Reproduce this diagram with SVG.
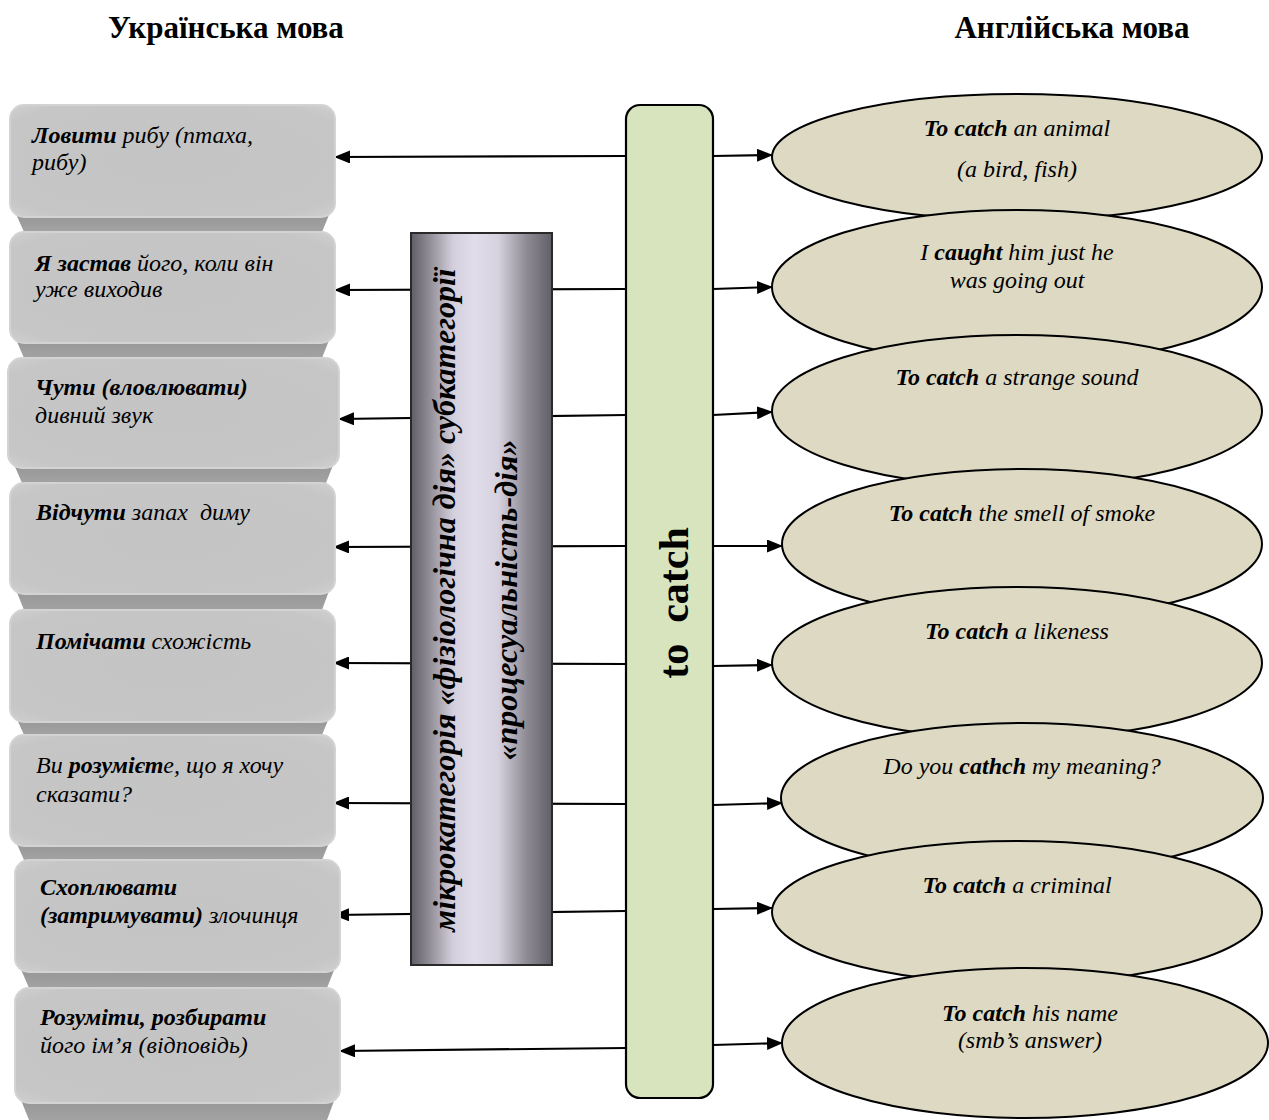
<svg xmlns="http://www.w3.org/2000/svg" width="1269" height="1120" viewBox="0 0 1269 1120">
<style>
.title{font-family:"Liberation Serif","Times New Roman",serif;font-weight:bold;font-size:31px;fill:#000}
.lt{font-family:"Liberation Serif","Times New Roman",serif;font-style:italic;font-size:24px;fill:#000}
.et{font-family:"Liberation Serif","Times New Roman",serif;font-style:italic;font-size:24px;fill:#000}
.b{font-weight:bold}
.face{fill:url(#faceGrad);stroke:#d3d3d3;stroke-width:2}
.base{fill:url(#baseGrad)}
.ell{fill:#ddd9c3;stroke:#000;stroke-width:2}
.conn{stroke:#000;stroke-width:2.2;fill:none;marker-end:url(#ah)}
.vt{font-family:"Liberation Serif","Times New Roman",serif;font-style:italic;font-weight:bold;font-size:32px;fill:#000}
</style>
<defs>
<marker id="ah" markerUnits="userSpaceOnUse" markerWidth="16" markerHeight="13" refX="15" refY="6.5" orient="auto">
<path d="M0,0 L16,6.5 L0,13 Z" fill="#000"/>
</marker>
<radialGradient id="faceGrad" cx="0.5" cy="0.5" r="0.7">
<stop offset="0" stop-color="#c4c4c4"/>
<stop offset="0.85" stop-color="#c6c6c6"/>
<stop offset="1" stop-color="#cfcfcf"/>
</radialGradient>
<linearGradient id="baseGrad" x1="0" y1="0" x2="0" y2="1">
<stop offset="0" stop-color="#8f8f8f"/>
<stop offset="1" stop-color="#a3a3a3"/>
</linearGradient>
<linearGradient id="barGrad" x1="0" y1="0" x2="1" y2="0">
<stop offset="0" stop-color="#5f5d65"/>
<stop offset="0.12" stop-color="#8c8992"/>
<stop offset="0.3" stop-color="#d4cfdc"/>
<stop offset="0.45" stop-color="#e2ddea"/>
<stop offset="0.62" stop-color="#d6d1de"/>
<stop offset="0.82" stop-color="#8e8b94"/>
<stop offset="1" stop-color="#605e66"/>
</linearGradient>
</defs>
<rect width="1269" height="1120" fill="#fff"/>

<text class="title" x="226" y="38" text-anchor="middle">Українська мова</text>
<text class="title" x="1072" y="38" text-anchor="middle">Англійська мова</text>

<g id="connectors">
<path class="conn" d="M626,156 L335,157"/>
<path class="conn" d="M713,156 L772,155"/>
<path class="conn" d="M626,289 L335,290"/>
<path class="conn" d="M713,289 L772,287"/>
<path class="conn" d="M626,415 L339,419"/>
<path class="conn" d="M713,415 L772,412"/>
<path class="conn" d="M626,546 L334,547"/>
<path class="conn" d="M713,546 L782,546"/>
<path class="conn" d="M626,664 L334,663"/>
<path class="conn" d="M713,666 L772,665"/>
<path class="conn" d="M626,804 L334,803"/>
<path class="conn" d="M713,805 L782,803"/>
<path class="conn" d="M626,911 L334,915"/>
<path class="conn" d="M713,909 L772,908"/>
<path class="conn" d="M626,1048 L340,1051"/>
<path class="conn" d="M713,1045 L782,1043"/>
</g>

<g id="ua1">
<path class="base" d="M12,205 L333,205 L322,232 L24,232 Z"/>
<rect class="face" x="10" y="105" width="325" height="112" rx="14"/>
<text class="lt" x="32" y="143"><tspan class="b">Ловити</tspan> рибу (птаха,</text>
<text class="lt" x="32" y="170">рибу)</text>
</g>
<g id="ua2">
<path class="base" d="M12,330 L333,330 L322,358 L24,358 Z"/>
<rect class="face" x="10" y="232" width="325" height="111" rx="14"/>
<text class="lt" x="35" y="271"><tspan class="b">Я застав</tspan> його, коли він</text>
<text class="lt" x="35" y="297">уже виходив</text>
</g>
<g id="ua3">
<path class="base" d="M10,455 L337,455 L326,483 L22,483 Z"/>
<rect class="face" x="8" y="358" width="331" height="110" rx="14"/>
<text class="lt" x="35" y="395"><tspan class="b">Чути (вловлювати)</tspan></text>
<text class="lt" x="35" y="423">дивний звук</text>
</g>
<g id="ua4">
<path class="base" d="M12,580 L333,580 L322,610 L24,610 Z"/>
<rect class="face" x="10" y="483" width="325" height="111" rx="14"/>
<text class="lt" x="36" y="520" xml:space="preserve"><tspan class="b">Відчути</tspan> запах  диму</text>
</g>
<g id="ua5">
<path class="base" d="M12,708 L333,708 L322,735 L24,735 Z"/>
<rect class="face" x="10" y="610" width="325" height="112" rx="14"/>
<text class="lt" x="36" y="649"><tspan class="b">Помічати</tspan> схожість</text>
</g>
<g id="ua6">
<path class="base" d="M12,833 L333,833 L322,860 L24,860 Z"/>
<rect class="face" x="10" y="735" width="325" height="111" rx="14"/>
<text class="lt" x="36" y="773">Ви <tspan class="b">розумієт</tspan>е, що я хочу</text>
<text class="lt" x="36" y="802">сказати?</text>
</g>
<g id="ua7">
<path class="base" d="M17,960 L338,960 L327,988 L29,988 Z"/>
<rect class="face" x="15" y="860" width="325" height="112" rx="14"/>
<text class="lt" x="40" y="895"><tspan class="b">Схоплювати</tspan></text>
<text class="lt" x="40" y="923"><tspan class="b">(затримувати)</tspan> злочинця</text>
</g>
<g id="ua8">
<path class="base" d="M17,1090 L338,1090 L327,1120 L29,1120 Z"/>
<rect class="face" x="15" y="988" width="325" height="115" rx="14"/>
<text class="lt" x="40" y="1025"><tspan class="b">Розуміти, розбирати</tspan></text>
<text class="lt" x="40" y="1053">його ім’я (відповідь)</text>
</g>

<g id="category">
<rect x="411" y="233" width="141" height="732" fill="url(#barGrad)" stroke="#2a2a2a" stroke-width="2"/>
<text class="vt" transform="translate(455,600) rotate(-90)" text-anchor="middle">мікрокатегорія «фізіологічна дія» субкатегорії</text>
<text class="vt" transform="translate(517,600) rotate(-90)" text-anchor="middle">«процесуальність-дія»</text>
</g>

<g id="verb">
<rect x="626" y="105" width="87" height="993" rx="14" fill="#d7e4bd" stroke="#000" stroke-width="2.2"/>
<text transform="translate(688,603) rotate(-90)" text-anchor="middle" xml:space="preserve" style="font-family:'Liberation Serif','Times New Roman',serif;font-weight:bold;font-size:42px;fill:#000">to  catch</text>
</g>

<g id="en1">
<ellipse class="ell" cx="1017" cy="157" rx="245" ry="63"/>
<text class="et" x="1017" y="136" text-anchor="middle"><tspan class="b">To catch</tspan> an animal</text>
<text class="et" x="1017" y="177" text-anchor="middle">(a bird, fish)</text>
</g>
<g id="en2">
<ellipse class="ell" cx="1017" cy="287" rx="245" ry="77"/>
<text class="et" x="1017" y="260" text-anchor="middle">I <tspan class="b">caught</tspan> him just he</text>
<text class="et" x="1017" y="288" text-anchor="middle">was going out</text>
</g>
<g id="en3">
<ellipse class="ell" cx="1017" cy="411" rx="245" ry="76"/>
<text class="et" x="1017" y="385" text-anchor="middle"><tspan class="b">To catch</tspan> a strange sound</text>
</g>
<g id="en4">
<ellipse class="ell" cx="1022" cy="544" rx="240" ry="75"/>
<text class="et" x="1022" y="521" text-anchor="middle"><tspan class="b">To catch</tspan> the smell of smoke</text>
</g>
<g id="en5">
<ellipse class="ell" cx="1017" cy="663" rx="245" ry="76"/>
<text class="et" x="1017" y="639" text-anchor="middle"><tspan class="b">To catch</tspan> a likeness</text>
</g>
<g id="en6">
<ellipse class="ell" cx="1022" cy="798" rx="241" ry="75"/>
<text class="et" x="1022" y="774" text-anchor="middle">Do you <tspan class="b">cathch</tspan> my meaning?</text>
</g>
<g id="en7">
<ellipse class="ell" cx="1017" cy="912" rx="245" ry="71"/>
<text class="et" x="1017" y="893" text-anchor="middle"><tspan class="b">To catch</tspan> a criminal</text>
</g>
<g id="en8">
<ellipse class="ell" cx="1025" cy="1043" rx="243" ry="75"/>
<text class="et" x="1030" y="1021" text-anchor="middle"><tspan class="b">To catch</tspan> his name</text>
<text class="et" x="1030" y="1048" text-anchor="middle">(smb’s answer)</text>
</g>
</svg>
